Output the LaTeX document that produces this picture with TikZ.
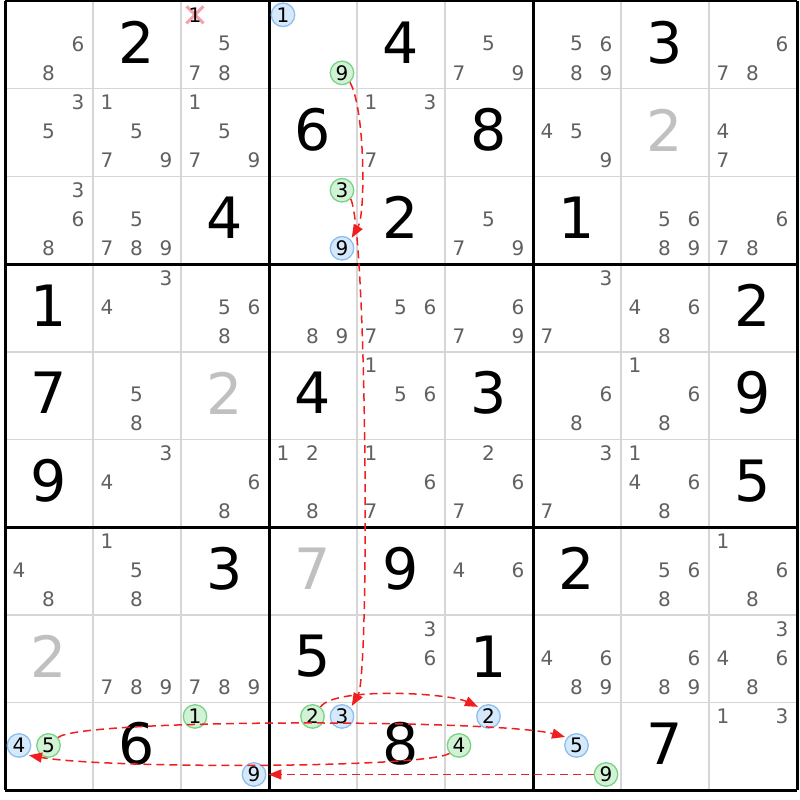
\documentclass[tikz,border=0pt]{standalone}
\usepackage{fontspec}
\setmainfont{DejaVu Sans}
\usetikzlibrary{calc,arrows.meta}
\pgfdeclarelayer{back}
\pgfsetlayers{back,main}
\definecolor{candgray}{RGB}{96,96,96}
\definecolor{solvedgray}{RGB}{192,192,192}
\definecolor{gridgray}{RGB}{214,214,214}
\definecolor{offblue}{RGB}{214,233,250}
\definecolor{offblueline}{RGB}{140,190,240}
\definecolor{ongreen}{RGB}{210,242,214}
\definecolor{ongreenline}{RGB}{120,210,135}
\definecolor{linkred}{RGB}{240,30,30}
\definecolor{crosspink}{RGB}{245,160,170}
\tikzstyle{given} = [inner sep=0pt, font=\fontsize{57}{57}\selectfont, text=black]
\tikzstyle{solved} = [given, text=solvedgray]
\tikzstyle{cand} = [inner sep=0pt, font=\fontsize{20}{20}\selectfont, text=candgray]
\tikzstyle{xcand} = [cand, text=black]
\tikzstyle{bcand} = [cand, circle, draw=offblueline, fill=offblue, line width=1.3pt,
    minimum size=23.5pt, text=black]
\tikzstyle{gcand} = [bcand, draw=ongreenline, fill=ongreen]
\tikzstyle{thinline} = [draw=gridgray, line width=1.5pt]
\tikzstyle{boxline} = [draw=black, line width=3pt]
\tikzstyle{chainlink} = [draw=linkred, line width=1.5pt, dash pattern=on 8pt off 5pt,
    -{Triangle[length=13pt,width=10pt]}, shorten >=2pt]
\tikzstyle{xmark} = [draw=crosspink, line width=3pt]
% big digit of a cell
\newcommand{\bigdigit}[4][given]{\node[#1] (val_#2_#3) at ([yshift=2.5pt]cell_#2_#3) {#4};}
% pencil marks of a cell
\newcommand{\cands}[4][cand]{%
  \foreach \d in {#4}{%
    \pgfmathtruncatemacro\dcol{mod(\d-1,3)}%
    \pgfmathtruncatemacro\drow{(\d-1)/3}%
    \node[#1] (cand_#2_#3_\d) at ($(cell_#2_#3)+({29.5*(\dcol-1)-0.5},{29*(\drow-1)-1})$) {\d};%
  }}

\begin{document}
\begin{tikzpicture}[x=1pt,y=-1pt]
\useasboundingbox (0,0) rectangle (800,800);
\foreach \r in {0,...,8}
  \foreach \c in {0,...,8}
    \coordinate (cell_\r_\c) at ({49+88*\c},{44.85+87.7*\r});

\foreach \i in {1,2,4,5,7,8}{
  \draw[thinline] ({5+88*\i},1) -- ({5+88*\i},790.3);
  \draw[thinline] (5,{1+87.7*\i}) -- (797,{1+87.7*\i});
}
\foreach \i in {0,3,6,9}{
  \draw[boxline] ({5+88*\i},1) -- ({5+88*\i},790.3);
  \draw[boxline] (5,{1+87.7*\i}) -- (797,{1+87.7*\i});
}

% row 0
\cands{0}{0}{6,8} \bigdigit{0}{1}{2} \cands{0}{2}{5,7,8} \cands[xcand]{0}{2}{1}
\cands[bcand]{0}{3}{1} \cands[gcand]{0}{3}{9} \bigdigit{0}{4}{4} \cands{0}{5}{5,7,9}
\cands{0}{6}{5,6,8,9} \bigdigit{0}{7}{3} \cands{0}{8}{6,7,8}
% row 1
\cands{1}{0}{3,5} \cands{1}{1}{1,5,7,9} \cands{1}{2}{1,5,7,9} \bigdigit{1}{3}{6}
\cands{1}{4}{1,3,7} \bigdigit{1}{5}{8} \cands{1}{6}{4,5,9} \bigdigit[solved]{1}{7}{2}
\cands{1}{8}{4,7}
% row 2
\cands{2}{0}{3,6,8} \cands{2}{1}{5,7,8,9} \bigdigit{2}{2}{4} \cands[gcand]{2}{3}{3}
\cands[bcand]{2}{3}{9} \bigdigit{2}{4}{2} \cands{2}{5}{5,7,9} \bigdigit{2}{6}{1}
\cands{2}{7}{5,6,8,9} \cands{2}{8}{6,7,8}
% row 3
\bigdigit{3}{0}{1} \cands{3}{1}{3,4} \cands{3}{2}{5,6,8} \cands{3}{3}{8,9}
\cands{3}{4}{5,6,7} \cands{3}{5}{6,7,9} \cands{3}{6}{3,7} \cands{3}{7}{4,6,8}
\bigdigit{3}{8}{2}
% row 4
\bigdigit{4}{0}{7} \cands{4}{1}{5,8} \bigdigit[solved]{4}{2}{2} \bigdigit{4}{3}{4}
\cands{4}{4}{1,5,6} \bigdigit{4}{5}{3} \cands{4}{6}{6,8} \cands{4}{7}{1,6,8}
\bigdigit{4}{8}{9}
% row 5
\bigdigit{5}{0}{9} \cands{5}{1}{3,4} \cands{5}{2}{6,8} \cands{5}{3}{1,2,8}
\cands{5}{4}{1,6,7} \cands{5}{5}{2,6,7} \cands{5}{6}{3,7} \cands{5}{7}{1,4,6,8}
\bigdigit{5}{8}{5}
% row 6
\cands{6}{0}{4,8} \cands{6}{1}{1,5,8} \bigdigit{6}{2}{3} \bigdigit[solved]{6}{3}{7}
\bigdigit{6}{4}{9} \cands{6}{5}{4,6} \bigdigit{6}{6}{2} \cands{6}{7}{5,6,8}
\cands{6}{8}{1,6,8}
% row 7
\bigdigit[solved]{7}{0}{2} \cands{7}{1}{7,8,9} \cands{7}{2}{7,8,9} \bigdigit{7}{3}{5}
\cands{7}{4}{3,6} \bigdigit{7}{5}{1} \cands{7}{6}{4,6,8,9} \cands{7}{7}{6,8,9}
\cands{7}{8}{3,4,6,8}
% row 8
\cands[bcand]{8}{0}{4} \cands[gcand]{8}{0}{5} \bigdigit{8}{1}{6} \cands[gcand]{8}{2}{1}
\cands[bcand]{8}{2}{9} \cands[gcand]{8}{3}{2} \cands[bcand]{8}{3}{3} \bigdigit{8}{4}{8}
\cands[bcand]{8}{5}{2} \cands[gcand]{8}{5}{4} \cands[bcand]{8}{6}{5} \cands[gcand]{8}{6}{9}
\bigdigit{8}{7}{7} \cands{8}{8}{1,3}

\begin{pgfonlayer}{back}
\draw[xmark] ($(cand_0_2_1)+(-8.5,-8.5)$) -- ($(cand_0_2_1)+(8.5,8.5)$);
\draw[xmark] ($(cand_0_2_1)+(-8.5,8.5)$) -- ($(cand_0_2_1)+(8.5,-8.5)$);
\end{pgfonlayer}

\draw[chainlink] (cand_0_3_9.-50) to[out=-60,in=60,out distance=30,in distance=30] (cand_2_3_9.45);
\draw[chainlink] (cand_2_3_3.-45) to[out=-65,in=60,out distance=38,in distance=38] (cand_8_3_3.45);
\draw[chainlink] (cand_8_3_2.50) to[out=55,in=155,out distance=25,in distance=35] (cand_8_5_2.135);
\draw[chainlink] (cand_8_5_4.-140) to[out=-150,in=-10,out distance=30,in distance=80] (cand_8_0_4.-50);
\draw[chainlink] (cand_8_0_5.40) to[out=40,in=165,out distance=30,in distance=70] (cand_8_6_5.140);
\draw[chainlink] (cand_8_6_9) -- (cand_8_2_9);
\end{tikzpicture}
\end{document}
